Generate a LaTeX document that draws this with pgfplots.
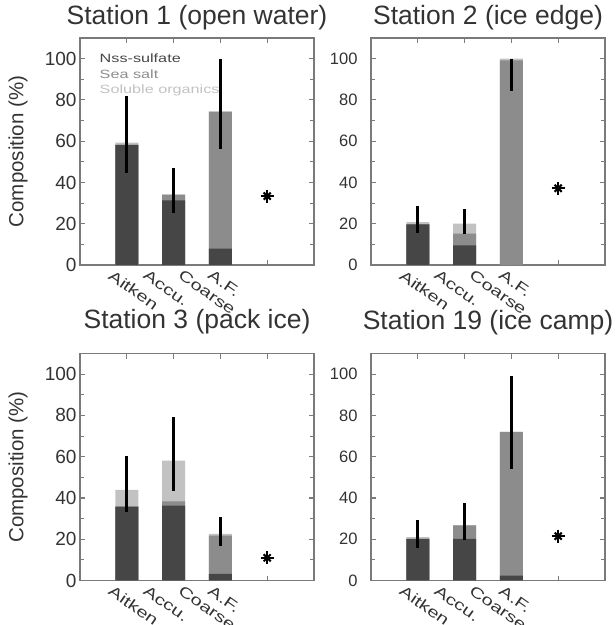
\documentclass[border=0pt]{standalone}
\usepackage{pgfplots}
\pgfplotsset{compat=1.18}
\usepackage{fontspec}
\setmainfont{Liberation Sans}
\newfontfamily\widefont[FakeStretch=1.35]{Liberation Sans}
\definecolor{nss}{HTML}{464646}
\definecolor{salt}{HTML}{8C8C8C}
\definecolor{org}{HTML}{C2C2C2}
\definecolor{frame}{HTML}{7A7A7A}
\definecolor{txt}{HTML}{333333}
\pgfplotsset{
 panel/.style={
  scale only axis, width=234pt, height=227pt, anchor=north west,
  xmin=0, xmax=5, ymin=0, ymax=110,
  axis line style={frame, line width=1.1pt},
  every tick/.style={frame, line width=1.1pt},
  tick align=inside,
  xtick={1,2,3,4}, xticklabels={},
  major tick length=5pt, minor tick length=3.5pt,
  ytick={0,20,...,100}, minor ytick={10,30,...,90},
  extra x ticks={0.78,1.52,2.27,2.9},
  extra x tick labels={Aitken,Accu.,Coarse,A.F.},
  extra x tick style={major tick length=0pt,
    xticklabel style={rotate=-35, anchor=north west, inner sep=0pt, yshift=-5pt,
      font=\widefont\fontsize{15}{17}\selectfont, text=txt}},
  /pgf/number format/assume math mode=true,
  yticklabel style={text=txt},
  title style={at={(axis description cs:0.5,1)}, anchor=base, yshift=8pt,
    font=\fontsize{26.5}{30}\selectfont, text=txt},
 },
 leftpanel/.style={
  yticklabel style={font=\fontsize{19}{22}\selectfont},
  ylabel={Composition (\%)},
  ylabel style={at={(axis description cs:-0.265,0.5)}, anchor=center,
    font=\fontsize{20.5}{24}\selectfont, text=txt},
 },
 rightpanel/.style={
  yticklabel style={font=\fontsize{16.5}{19}\selectfont, xshift=-10pt},
 },
 barorg/.style={ybar, bar width=23pt, bar shift=0pt, fill=org, draw=none, forget plot},
 barsalt/.style={ybar, bar width=23pt, bar shift=0pt, fill=salt, draw=none, forget plot},
 barnss/.style={ybar, bar width=23pt, bar shift=0pt, fill=nss, draw=none, forget plot},
 errb/.style={draw=none, mark=none, forget plot,
   error bars/.cd, y dir=both, y explicit, error mark=none,
   error bar style={draw=black, solid, line width=3pt}},
 starp/.style={only marks, mark=+, mark size=6.5pt, forget plot,
   mark options={line width=2.1pt, black}},
 starx/.style={only marks, mark=x, mark size=5pt, forget plot,
   mark options={line width=2.1pt, black}},
}
\begin{document}
\begin{tikzpicture}
\useasboundingbox (0,0) rectangle (616pt,-625pt);
% Station 1
\begin{axis}[panel, leftpanel, at={(80pt,-38pt)}, title={Station 1 (open water)},
  legend style={draw=none, fill=none, at={(axis description cs:0.075,0.94)}, anchor=north west,
    font=\widefont\fontsize{12}{14}\selectfont, row sep=1.5pt, inner sep=0pt},
  legend cell align=left]
\addplot[barorg] coordinates {(1,59.3) (2,34.1) (3,74.3)};
\addplot[barsalt] coordinates {(1,58.2) (2,34.1) (3,74.3)};
\addplot[barnss] coordinates {(1,58.2) (2,31.3) (3,7.9)};
\addplot[errb] coordinates {(1,59.3) += (0,22.6) -= (0,14.6) (2,34.1) += (0,12.7) -= (0,8.7) (3,74.3) += (0,25.7) -= (0,18.3)};
\addplot[starp] coordinates {(4,33.4)};
\addplot[starx] coordinates {(4,33.4)};
\addlegendimage{empty legend}\addlegendentry{\textcolor{nss}{Nss-sulfate}}
\addlegendimage{empty legend}\addlegendentry{\textcolor{salt}{Sea salt}}
\addlegendimage{empty legend}\addlegendentry{\textcolor{org}{Soluble organics}}
\end{axis}
% Station 2
\begin{axis}[panel, rightpanel, at={(371pt,-38pt)}, title={Station 2 (ice edge)}]
\addplot[barorg] coordinates {(1,20.8) (2,20.0) (3,100)};
\addplot[barsalt] coordinates {(1,19.7) (2,15.2) (3,99.2)};
\addplot[barnss] coordinates {(1,19.7) (2,9.5) (3,0)};
\addplot[errb] coordinates {(1,20.8) += (0,7.8) -= (0,5.1) (2,20.0) += (0,7.3) -= (0,5.1) (3,99.2) += (0,0.8) -= (0,14.9)};
\addplot[starp] coordinates {(4,37.2)};
\addplot[starx] coordinates {(4,37.2)};
\end{axis}
% Station 3
\begin{axis}[panel, leftpanel, at={(80pt,-353.5pt)}, title={Station 3 (pack ice)},
  title style={yshift=11pt}]
\addplot[barorg] coordinates {(1,43.9) (2,58.1) (3,22.6)};
\addplot[barsalt] coordinates {(1,35.8) (2,38.4) (3,21.8)};
\addplot[barnss] coordinates {(1,35.8) (2,36.3) (3,3.2)};
\addplot[errb] coordinates {(1,43.9) += (0,16.6) -= (0,10.8) (2,58.1) += (0,21.3) -= (0,14.6) (3,22.6) += (0,8.4) -= (0,5.7)};
\addplot[starp] coordinates {(4,11)};
\addplot[starx] coordinates {(4,11)};
\end{axis}
% Station 19
\begin{axis}[panel, rightpanel, at={(371pt,-353.5pt)}, title={Station 19 (ice camp)},
  title style={yshift=10pt}]
\addplot[barorg] coordinates {(1,21.0) (2,26.7) (3,72)};
\addplot[barsalt] coordinates {(1,20.2) (2,26.7) (3,72)};
\addplot[barnss] coordinates {(1,20.2) (2,20.2) (3,2.4)};
\addplot[errb] coordinates {(1,21.0) += (0,8.1) -= (0,5.1) (2,26.7) += (0,10.8) -= (0,7.0) (3,72) += (0,27) -= (0,18)};
\addplot[starp] coordinates {(4,21.5)};
\addplot[starx] coordinates {(4,21.5)};
\end{axis}
\end{tikzpicture}
\end{document}
